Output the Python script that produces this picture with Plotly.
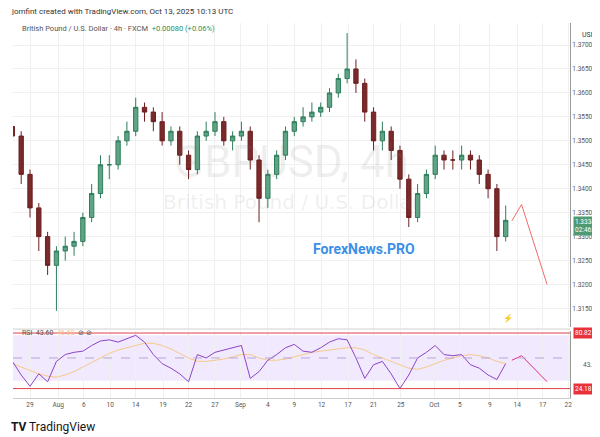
import plotly.graph_objects as go

# trading-day index 1..57 (Jul 25 .. Oct 13)
opens = [1.353,1.351,1.343,1.336,1.330,1.324,1.327,1.328,1.329,1.334,1.339,1.345,1.345,1.350,1.352,1.357,1.356,1.354,1.350,1.352,1.347,1.344,1.351,1.352,1.354,1.350,1.351,1.352,1.346,1.338,1.343,1.347,1.352,1.354,1.355,1.356,1.357,1.360,1.363,1.365,1.362,1.356,1.350,1.352,1.348,1.342,1.334,1.339,1.343,1.347,1.346,1.346,1.347,1.346,1.343,1.340,1.330]
closes = [1.351,1.343,1.336,1.330,1.324,1.327,1.328,1.329,1.334,1.339,1.345,1.345,1.350,1.352,1.357,1.356,1.354,1.350,1.352,1.347,1.344,1.351,1.352,1.354,1.350,1.351,1.352,1.346,1.338,1.343,1.347,1.352,1.354,1.355,1.356,1.357,1.360,1.363,1.365,1.362,1.356,1.350,1.352,1.348,1.342,1.334,1.339,1.343,1.347,1.346,1.346,1.347,1.346,1.343,1.340,1.330,1.3334]
highs = [1.354,1.352,1.344,1.337,1.331,1.328,1.330,1.331,1.335,1.341,1.347,1.347,1.351,1.354,1.359,1.358,1.357,1.356,1.353,1.353,1.348,1.352,1.354,1.356,1.355,1.352,1.354,1.353,1.347,1.344,1.348,1.353,1.355,1.357,1.358,1.358,1.361,1.364,1.3725,1.367,1.363,1.357,1.354,1.353,1.349,1.343,1.341,1.344,1.349,1.348,1.348,1.349,1.348,1.347,1.344,1.341,1.3365]
lows = [1.349,1.341,1.334,1.327,1.322,1.3145,1.325,1.326,1.328,1.333,1.338,1.342,1.344,1.349,1.351,1.354,1.352,1.349,1.349,1.345,1.342,1.343,1.350,1.351,1.349,1.348,1.350,1.344,1.333,1.336,1.342,1.346,1.351,1.353,1.354,1.355,1.356,1.359,1.362,1.360,1.354,1.348,1.348,1.346,1.340,1.332,1.333,1.338,1.342,1.344,1.344,1.344,1.344,1.341,1.338,1.327,1.329]
rsi = [47,35,25,36,29,47,53,55,56,61,65,66,64,67,70,64,53,45,41,36,29,53,50,55,57,59,61,32,38,48,53,59,62,56,55,59,64,67,66,50,32,44,47,36,23,35,50,55,61,53,52,53,44,41,35,31,45]
rsi_ma = [45,42,39,36,34,33,35,38,42,46,50,54,57,59,61,63,63,61,58,54,50,47,47,48,49,51,53,53,50,48,48,49,51,53,55,56,57,58,59,59,57,53,50,47,44,41,40,42,45,48,50,52,53,52,50,47,45]
tick_pos = [3, 6.2, 9.1, 12.1, 15.0, 18.1, 21.0, 24.0, 26.9, 30.0, 33.0, 36.1, 39.1, 42.0, 45.1, 48.9, 51.8, 55.2, 58.3, 61.2, 64.1]
tick_text = ["29","Aug","6","10","14","19","22","27","Sep","4","9","12","17","21","25","Oct","5","9","14","17","22"]
price_ticks = [1.315,1.32,1.325,1.33,1.335,1.34,1.345,1.35,1.355,1.36,1.365,1.37]
proj_x = [57.7, 58.8, 61.7]
proj_price = [1.3333, 1.3367, 1.3200]
proj_rsi = [48, 52, 29]
rsi_levels = [72, 23]
rsi_level_text = ["80.82", "24.18"]

n = len(closes)
x = list(range(1, n + 1))
fig = go.Figure()
fig.add_trace(go.Candlestick(x=x, open=opens, high=highs, low=lows, close=closes,
    increasing=dict(line=dict(color="#2f7d5b", width=1), fillcolor="#5fa585"),
    decreasing=dict(line=dict(color="#6e1f1f", width=1), fillcolor="#7a2a2a"),
    whiskerwidth=0, xaxis="x", yaxis="y", showlegend=False))
fig.add_trace(go.Scatter(x=proj_x, y=proj_price, mode="lines", line=dict(color="#f06a6a", width=1),
    xaxis="x", yaxis="y", showlegend=False))
fig.add_trace(go.Scatter(x=x[:len(rsi_ma)], y=rsi_ma, mode="lines", line=dict(color="#f5c98a", width=1),
    xaxis="x2", yaxis="y2", showlegend=False))
fig.add_trace(go.Scatter(x=x[:len(rsi)], y=rsi, mode="lines", line=dict(color="#8e44c9", width=1),
    xaxis="x2", yaxis="y2", showlegend=False))
fig.add_trace(go.Scatter(x=proj_x, y=proj_rsi, mode="lines", line=dict(color="#e0307a", width=1),
    xaxis="x2", yaxis="y2", showlegend=False))

xr = [1.07, 64.3]
shapes = [
    dict(type="rect", xref="x2", yref="y2", x0=xr[0], x1=xr[1], y0=30, y1=70,
         fillcolor="rgba(160,110,240,0.15)", line=dict(width=0), layer="below"),
    dict(type="line", xref="x2", yref="y2", x0=xr[0], x1=xr[1], y0=50, y1=50,
         line=dict(color="#b9a5d8", width=1, dash="dash")),
]
for lv in rsi_levels:
    shapes.append(dict(type="line", xref="x2", yref="y2", x0=xr[0], x1=xr[1], y0=lv, y1=lv,
                       line=dict(color="#e0404a", width=1)))
shapes.append(dict(type="line", xref="paper", yref="paper", x0=0, x1=1, y0=0.205, y1=0.205,
                   line=dict(color="#cfcfcf", width=1)))

ann = [
    dict(text="jomfint created with TradingView.com, Oct 13, 2025 10:13 UTC", xref="paper", yref="paper",
         x=-0.008, y=1.03, xanchor="left", yanchor="middle", showarrow=False, font=dict(size=8, color="#333")),
    dict(text="British Pound / U.S. Dollar · 4h · FXCM  <span style='color:#2f8f5b'>+0.00080 (+0.06%)</span>",
         xref="paper", yref="paper", x=0.012, y=0.985, xanchor="left", yanchor="middle", showarrow=False,
         font=dict(size=7.5, color="#555")),
    dict(text="GBPUSD, 4h", xref="paper", yref="paper", x=0.5, y=0.64, showarrow=False,
         font=dict(size=44, color="rgba(120,120,120,0.12)")),
    dict(text="British Pound / U.S. Dollar", xref="paper", yref="paper", x=0.5, y=0.535, showarrow=False,
         font=dict(size=20, color="rgba(120,120,120,0.12)", family="DejaVu Sans")),
    dict(text="<b>ForexNews.PRO</b>", xref="paper", yref="paper", x=0.726, y=0.413, showarrow=False,
         font=dict(size=14, color="#3c8fe8")),
    dict(text="USD", xref="paper", yref="paper", x=1.018, y=0.985, xanchor="left", showarrow=False,
         font=dict(size=7, color="#333")),
    dict(text="1.33342<br>02:46:47", xref="paper", yref="y", x=1.005, y=1.3322, showarrow=False,
         xanchor="left", bgcolor="#4f9a72", font=dict(size=6.5, color="white"), align="left"),
    dict(text="RSI  43.60  <span style='color:#f5c98a'>46.60</span>  ⊘ ⊘", xref="paper", yref="paper", x=0.012, y=0.178,
         xanchor="left", showarrow=False, font=dict(size=7, color="#555")),
    dict(text="⚡", xref="paper", yref="paper", x=0.902, y=0.215, showarrow=False,
         font=dict(size=8, color="#8e44c9")),
    dict(text="<b>TV</b> TradingView", xref="paper", yref="paper", x=-0.008, y=-0.05, xanchor="left",
         yanchor="middle", showarrow=False, font=dict(size=12, color="#131722")),
    dict(text="43.60", xref="paper", yref="y2", x=1.02, y=43.6, xanchor="left", showarrow=False,
         font=dict(size=6.5, color="#555")),
]
for lv, t in zip(rsi_levels, rsi_level_text):
    ann.append(dict(text=t, xref="paper", yref="y2", x=1.005, y=lv, xanchor="left", showarrow=False,
                    bgcolor="#e8323a", font=dict(size=6.5, color="white")))

grid = "#f0f0f0"
fig.update_layout(
    width=600, height=437, margin=dict(l=5, r=38, t=15, b=37),
    paper_bgcolor="white", plot_bgcolor="white", font=dict(family="Roboto"),
    xaxis=dict(domain=[0, 1], range=xr, anchor="y", tickvals=tick_pos, ticktext=tick_text,
               showticklabels=False, showgrid=True, gridcolor=grid, zeroline=False,
               rangeslider=dict(visible=False)),
    yaxis=dict(domain=[0.21, 1], range=[1.3111, 1.3746], side="right", tickvals=price_ticks,
               tickformat=".5f", tickfont=dict(size=6.5, color="#555"), showgrid=True, gridcolor=grid,
               zeroline=False, showline=True, linecolor="#999", ticks=""),
    xaxis2=dict(domain=[0, 1], range=xr, anchor="y2", tickvals=tick_pos, ticktext=tick_text,
                tickfont=dict(size=6.5, color="#555"), showgrid=True, gridcolor=grid, zeroline=False,
                showline=True, linecolor="#ccc"),
    yaxis2=dict(domain=[0.026, 0.2], range=[14.7, 73.8], side="right", showticklabels=False,
                showgrid=False, zeroline=False, showline=True, linecolor="#999"),
    shapes=shapes, annotations=ann,
)
fig.write_html("out.html")
